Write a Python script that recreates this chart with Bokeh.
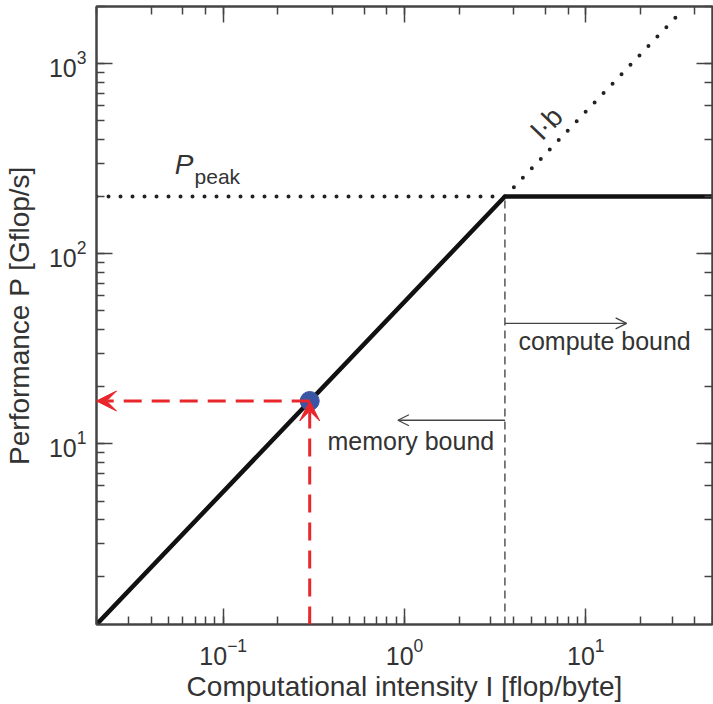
from bokeh.plotting import figure
from bokeh.models import (LogAxis, Arrow, VeeHead, OpenHead, Label, ColumnDataSource, Range1d,
                          CustomJSTickFormatter)
from bokeh.embed import file_html
from bokeh.resources import INLINE

# ---------------- data ----------------
x_limits = [0.02, 50.0]          # computational intensity range [flop/byte]
y_limits = [1.12, 2000.0]        # performance range [Gflop/s]
peak_perf = 200.0                # P_peak [Gflop/s]
ridge_I = 3.58                   # ridge point intensity
roof_I = [0.02, 3.58, 50.0]
roof_P = [1.12, 200.0, 200.0]
peak_dot_I = [0.02, 3.58]
peak_dot_P = [200.0, 200.0]
bw_dot_I = [3.58, 32.0]
bw_dot_P = [200.0, 1790.0]
ridge_vline_I = [3.58, 3.58]
ridge_vline_P = [1.12, 200.0]
kernel_I = [0.30]
kernel_P = [16.8]
compute_arrow_I = [3.58, 16.8]
compute_arrow_P = [43.0, 43.0]
memory_arrow_I = [3.58, 0.92]
memory_arrow_P = [13.3, 13.3]

FONT = "Liberation Sans"
TXT = "#333333"
AX = "#444444"
RED = "#e8262b"
BLUE = "#3a55a4"

p = figure(x_axis_type="log", y_axis_type="log",
           x_range=Range1d(*x_limits), y_range=Range1d(*y_limits),
           width=713, height=704,
           min_border_left=96, min_border_right=1, min_border_top=6, min_border_bottom=79,
           output_backend="svg", toolbar_location=None)
p.grid.visible = False
p.background_fill_color = "white"
p.border_fill_color = "white"
p.outline_line_color = AX
p.outline_line_width = 2

def style_axis(ax, labels=True):
    ax.axis_line_color = AX
    ax.axis_line_width = 2
    ax.major_tick_line_color = AX
    ax.minor_tick_line_color = AX
    ax.major_tick_line_width = 1.5
    ax.minor_tick_line_width = 1.5
    ax.major_tick_in = 16
    ax.major_tick_out = 0
    ax.minor_tick_in = 8
    ax.minor_tick_out = 0
    if labels:
        ax.major_label_text_font = FONT
        ax.major_label_text_font_size = "25px"
        ax.major_label_text_color = TXT
        ax.axis_label_text_font = FONT
        ax.axis_label_text_font_style = "normal"
        ax.axis_label_text_font_size = "28px"
        ax.axis_label_text_color = TXT
    else:
        ax.formatter = CustomJSTickFormatter(code="return ''")
        ax.major_label_standoff = 0

style_axis(p.xaxis[0])
style_axis(p.yaxis[0])
p.xaxis[0].axis_label = "Computational intensity I [flop/byte]"
p.yaxis[0].axis_label = "Performance P [Gflop/s]"
p.xaxis[0].major_label_standoff = 13
p.xaxis[0].axis_label_standoff = 3
p.yaxis[0].major_label_standoff = 10
p.yaxis[0].axis_label_standoff = 11

top_ax = LogAxis()
right_ax = LogAxis()
style_axis(top_ax, labels=False)
style_axis(right_ax, labels=False)
p.add_layout(top_ax, "above")
p.add_layout(right_ax, "right")

# dotted guide lines
p.line(peak_dot_I, peak_dot_P, line_color="#222222", line_width=4,
       line_dash="0 12", line_cap="round")
p.line(bw_dot_I, bw_dot_P, line_color="#222222", line_width=4,
       line_dash="0 13", line_cap="round")
# ridge dashed line
p.line(ridge_vline_I, ridge_vline_P, line_color="#555555", line_width=1.5, line_dash="8 5")
# roofline
p.line(roof_I, roof_P, line_color="#111111", line_width=4.5)

# kernel point
p.scatter(kernel_I, kernel_P, size=19, fill_color=BLUE, line_color=BLUE)

# red dashed arrows
red_src = ColumnDataSource(dict(
    x0=[kernel_I[0], kernel_I[0]],
    y0=[y_limits[0], kernel_P[0]],
    x1=[kernel_I[0], x_limits[0]],
    y1=[kernel_P[0], kernel_P[0]],
))
p.add_layout(Arrow(source=red_src, x_start="x0", y_start="y0", x_end="x1", y_end="y1",
                   line_color=RED, line_width=3, line_dash="18 10",
                   end=VeeHead(size=20, fill_color=RED, line_color=RED)))

# thin regime arrows
reg_src = ColumnDataSource(dict(
    x0=[compute_arrow_I[0], memory_arrow_I[0]],
    y0=[compute_arrow_P[0], memory_arrow_P[0]],
    x1=[compute_arrow_I[1], memory_arrow_I[1]],
    y1=[compute_arrow_P[1], memory_arrow_P[1]],
))
p.add_layout(Arrow(source=reg_src, x_start="x0", y_start="y0", x_end="x1", y_end="y1",
                   line_color=AX, line_width=1.3,
                   end=OpenHead(size=11, line_color=AX, line_width=1.3)))

# texts
p.add_layout(Label(x=4.25, y=34.6, text="compute bound", text_font=FONT,
                   text_font_size="25px", text_color=TXT, text_baseline="alphabetic"))
p.add_layout(Label(x=0.376, y=10.3, text="memory bound", text_font=FONT,
                   text_font_size="25px", text_color=TXT, text_baseline="alphabetic"))
p.add_layout(Label(x=0.054, y=295.0, text="P", text_font=FONT, text_font_style="italic",
                   text_font_size="28px", text_color=TXT, text_baseline="alphabetic"))
p.add_layout(Label(x=0.0695, y=255.0, text="peak", text_font=FONT,
                   text_font_size="21px", text_color=TXT, text_baseline="alphabetic"))
p.add_layout(Label(x=6.06, y=485.0, text="I·b", text_font=FONT,
                   text_font_size="28px", text_color=TXT, angle=46.2, angle_units="deg",
                   text_align="center", text_baseline="middle"))

open("out.html", "w").write(file_html(p, INLINE))
